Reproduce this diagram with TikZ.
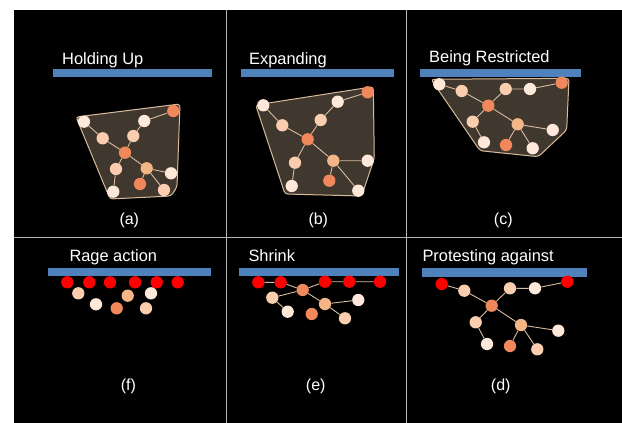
\documentclass[tikz,border=0pt]{standalone}
\usepackage{fontspec}
\setmainfont{Liberation Sans}
\usepackage{tikz}
\usetikzlibrary{arrows}
\definecolor{barblue}{HTML}{4F81BD}
\definecolor{hullfill}{HTML}{40382F}
\definecolor{hullline}{HTML}{D8BA9B}
\definecolor{linkc}{HTML}{D9BC9E}
\definecolor{clight}{HTML}{FDE8DA}
\definecolor{cpeach}{HTML}{F9CDAE}
\definecolor{cmid}{HTML}{F5B687}
\definecolor{corange}{HTML}{F0885B}
\definecolor{cred}{HTML}{FF0000}
\definecolor{divc}{HTML}{B4B4B4}
\tikzstyle{dot} = [circle,inner sep=0pt,minimum size=12.3pt]
\tikzstyle{light} = [dot,fill=clight]
\tikzstyle{peach} = [dot,fill=cpeach]
\tikzstyle{mid} = [dot,fill=cmid]
\tikzstyle{orange} = [dot,fill=corange]
\tikzstyle{red} = [dot,fill=cred]
\tikzstyle{link} = [draw=linkc,line width=0.9pt]
\tikzstyle{hull} = [fill=hullfill,draw=hullline,line width=1pt,rounded corners=3pt]
\tikzstyle{bar} = [fill=barblue]
\tikzstyle{title} = [text=white,anchor=base west,inner sep=0pt,font=\fontsize{16.4}{18}\selectfont]
\tikzstyle{tag} = [text=white,inner sep=0pt,font=\fontsize{16}{18}\selectfont]
\tikzstyle{divider} = [draw=divc,line width=0.8pt]

\begin{document}
\begin{tikzpicture}[x=1pt,y=-1pt]
	\useasboundingbox (0,0) rectangle (622,423);
	\fill[black] (14,10) rectangle (622,423);
	\draw[divider] (226.7,10) -- (226.7,423);
	\draw[divider] (406.7,10) -- (406.7,423);
	\draw[divider] (14,237.3) -- (622,237.3);

	% (a) holding up
	\begin{scope}
		\draw[hull] (76,117) -- (180,104) -- (177,187) -- (171,196) -- (110,199) -- cycle;
		\fill[bar] (52.7,69) rectangle (212,77);
		\node[title] (ta) at (62,64) {Holding Up};
		\node[light] (a1) at (84,121.7) {};
		\node[light] (a2) at (144.3,121) {};
		\node[orange] (a3) at (173.3,111) {};
		\node[peach] (a4) at (102.7,138.3) {};
		\node[peach] (a5) at (133.3,136) {};
		\node[orange] (a6) at (125,152.7) {};
		\node[peach] (a7) at (116,169) {};
		\node[mid] (a8) at (146.7,168.3) {};
		\node[light] (a9) at (171,173.3) {};
		\node[orange] (a10) at (140,184) {};
		\node[light] (a11) at (113.3,191.7) {};
		\node[peach] (a12) at (164,190) {};
		\draw[link] (a1) -- (a4) -- (a6) -- (a5) -- (a2) -- (a3);
		\draw[link] (a6) -- (a7) -- (a11);
		\draw[link] (a6) -- (a8) -- (a9);
		\draw[link] (a8) -- (a10);
		\draw[link] (a8) -- (a12);
		\node[tag] (la) at (129.3,220) {(a)};
	\end{scope}

	% (b) expanding
	\begin{scope}
		\draw[hull] (255.7,105) -- (373.3,86.7) -- (374.3,158.3) -- (361.7,196) -- (285,194) -- cycle;
		\fill[bar] (241,69.3) rectangle (394,76.7);
		\node[title] (tb) at (249,64) {Expanding};
		\node[light] (b1) at (263.3,105.3) {};
		\node[peach] (b2) at (282.3,125.3) {};
		\node[orange] (b3) at (307.7,139.3) {};
		\node[peach] (b4) at (320.7,120) {};
		\node[light] (b5) at (337.7,101.7) {};
		\node[orange] (b6) at (367.7,92.3) {};
		\node[peach] (b7) at (295,162.7) {};
		\node[light] (b8) at (291.7,186) {};
		\node[mid] (b9) at (333.3,160.7) {};
		\node[light] (b10) at (367.7,160.7) {};
		\node[orange] (b11) at (329.3,180.7) {};
		\node[light] (b12) at (358.3,190.7) {};
		\draw[link] (b1) -- (b2) -- (b3) -- (b4) -- (b5) -- (b6);
		\draw[link] (b3) -- (b7) -- (b8);
		\draw[link] (b3) -- (b9) -- (b10);
		\draw[link] (b9) -- (b11);
		\draw[link] (b9) -- (b12);
		\node[tag] (lb) at (318.3,220) {(b)};
	\end{scope}

	% (c) being restricted
	\begin{scope}
		\draw[hull] (431,79.3) -- (569,78.3) -- (566.7,130) -- (538.3,156.7) -- (480,150.7) -- cycle;
		\fill[bar] (420.3,69.3) rectangle (580.7,77.3);
		\node[title] (tc) at (429,63) {Being Restricted};
		\node[light] (c1) at (439.3,84.3) {};
		\node[peach] (c2) at (461.7,91) {};
		\node[orange] (c3) at (488.3,105.7) {};
		\node[peach] (c4) at (505.7,89) {};
		\node[light] (c5) at (530,89) {};
		\node[orange] (c6) at (561.7,82.7) {};
		\node[peach] (c7) at (472.7,121.7) {};
		\node[light] (c8) at (484,142.3) {};
		\node[mid] (c9) at (517.7,124.3) {};
		\node[light] (c10) at (552.7,130) {};
		\node[orange] (c11) at (506,145) {};
		\node[light] (c12) at (532.7,148.3) {};
		\draw[link] (c1) -- (c2) -- (c3) -- (c4) -- (c5) -- (c6);
		\draw[link] (c3) -- (c7) -- (c8);
		\draw[link] (c3) -- (c9) -- (c10);
		\draw[link] (c9) -- (c11);
		\draw[link] (c9) -- (c12);
		\node[tag] (lc) at (503.3,220) {(c)};
	\end{scope}

	% (f) rage action
	\begin{scope}
		\fill[bar] (48.3,267.7) rectangle (210.7,276);
		\node[title] (tf) at (69.3,261) {Rage action};
		\node[red] (f1) at (67.3,282.3) {};
		\node[red] (f2) at (89.3,282.3) {};
		\node[red] (f3) at (110,282.3) {};
		\node[red] (f4) at (135,282.3) {};
		\node[red] (f5) at (156.7,282.3) {};
		\node[red] (f6) at (177.7,282.3) {};
		\node[peach] (f7) at (78.3,293.3) {};
		\node[light] (f8) at (96,304.3) {};
		\node[orange] (f9) at (116.7,308.3) {};
		\node[mid] (f10) at (127.7,295.7) {};
		\node[light] (f11) at (151,293.3) {};
		\node[peach] (f12) at (146,308.3) {};
		\node[tag] (lf) at (128.3,386.7) {(f)};
	\end{scope}

	% (e) shrink
	\begin{scope}
		\fill[bar] (239.3,267.7) rectangle (399.3,276);
		\node[title] (te) at (248.3,261) {Shrink};
		\node[red] (e1) at (258.3,282.3) {};
		\node[red] (e2) at (280.7,282.3) {};
		\node[red] (e3) at (325,281.7) {};
		\node[red] (e4) at (349.3,281.7) {};
		\node[red] (e5) at (380,281.7) {};
		\node[orange] (e6) at (302.7,290) {};
		\node[peach] (e7) at (272.3,297.7) {};
		\node[light] (e8) at (287.7,311.7) {};
		\node[mid] (e9) at (325,304) {};
		\node[light] (e10) at (358.3,300) {};
		\node[orange] (e11) at (311.7,314) {};
		\node[peach] (e12) at (345,318.3) {};
		\draw[link] (e1) -- (e2) -- (e6) -- (e3) -- (e4) -- (e5);
		\draw[link] (e6) -- (e7) -- (e8);
		\draw[link] (e6) -- (e9) -- (e10);
		\draw[link] (e9) -- (e12);
		\node[tag] (le) at (315.7,386.7) {(e)};
	\end{scope}

	% (d) protesting against
	\begin{scope}
		\fill[bar] (422.3,268.3) rectangle (586.7,276.7);
		\node[title] (td) at (422.3,261) {Protesting against};
		\node[red] (d1) at (441.7,284) {};
		\node[peach] (d2) at (464.3,290.7) {};
		\node[orange] (d3) at (491.7,305.7) {};
		\node[peach] (d4) at (510,288.3) {};
		\node[light] (d5) at (535,288.3) {};
		\node[red] (d6) at (567.3,281.7) {};
		\node[peach] (d7) at (475.7,322.3) {};
		\node[light] (d8) at (487,344) {};
		\node[mid] (d9) at (521,325) {};
		\node[light] (d10) at (558.3,330.7) {};
		\node[orange] (d11) at (510,346) {};
		\node[peach] (d12) at (537.3,349.3) {};
		\draw[link] (d1) -- (d2) -- (d3) -- (d4) -- (d5) -- (d6);
		\draw[link] (d3) -- (d7) -- (d8);
		\draw[link] (d3) -- (d9) -- (d10);
		\draw[link] (d9) -- (d11);
		\draw[link] (d9) -- (d12);
		\node[tag] (ld) at (500.7,386.7) {(d)};
	\end{scope}
\end{tikzpicture}
\end{document}
